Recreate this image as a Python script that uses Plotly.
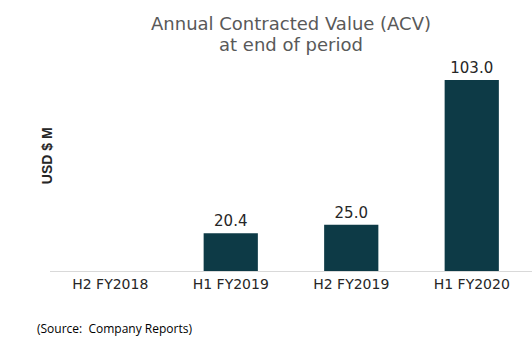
import plotly.graph_objects as go

categories = ["H2 FY2018", "H1 FY2019", "H2 FY2019", "H1 FY2020"]
values = [0, 20.4, 25.0, 103.0]
labels = ["", "20.4", "25.0", "103.0"]
title_lines = ["Annual Contracted Value (ACV)", "at end of period"]

FONT = "DejaVu Sans, sans-serif"

fig = go.Figure(go.Bar(
    x=categories, y=values, text=labels, textposition="outside",
    marker=dict(color="#0d3a46", line=dict(color="#0d3a46", width=0)),
    width=0.45, cliponaxis=False,
    textfont=dict(family=FONT, size=15, color="#262626"),
))

fig.update_layout(
    width=532, height=347,
    margin=dict(l=50, r=0, t=62, b=76),
    plot_bgcolor="white", paper_bgcolor="white",
    showlegend=False,
    xaxis=dict(
        showline=True, linecolor="#d9d9d9", linewidth=1,
        ticks="", tickfont=dict(family=FONT, size=14, color="#262626"),
    ),
    yaxis=dict(
        range=[0, 112.7], showgrid=False, showticklabels=False, zeroline=False,
    ),
    annotations=[
        dict(text=title_lines[0], xref="paper", yref="paper", x=0.5, y=1.182,
             xanchor="center", yanchor="middle", showarrow=False,
             font=dict(family=FONT, size=18, color="#595959")),
        dict(text=title_lines[1], xref="paper", yref="paper", x=0.5, y=1.086,
             xanchor="center", yanchor="middle", showarrow=False,
             font=dict(family=FONT, size=18, color="#595959")),
        dict(text="<b>USD $ M</b>", xref="paper", yref="paper", x=-0.006, y=0.55,
             xanchor="center", yanchor="middle", showarrow=False, textangle=-90,
             font=dict(family="Liberation Sans, Arial, sans-serif", size=14, color="#262626")),
        dict(text="(Source:  Company Reports)", xref="paper", yref="paper",
             x=-0.031, y=-0.273, xanchor="left", yanchor="middle", showarrow=False,
             font=dict(family="Open Sans, sans-serif", size=12, color="#000000")),
    ],
)

fig.write_html("out.html")
